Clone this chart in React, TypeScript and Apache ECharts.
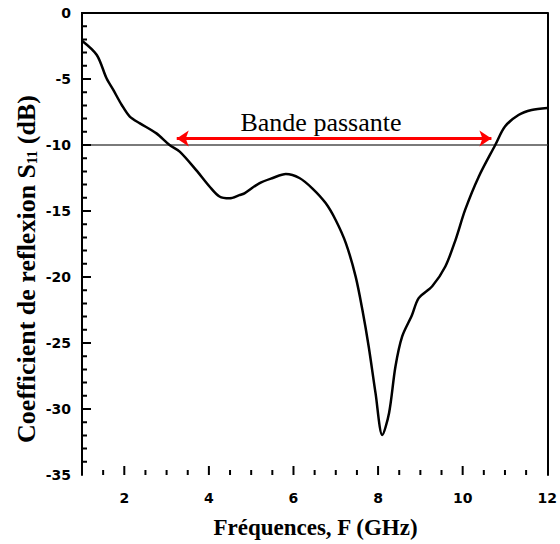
import React, { useEffect, useRef } from "react";
import * as echarts from "echarts";

const freq = [1.0, 1.35, 1.58, 1.74, 1.94, 2.13, 2.37, 2.76, 3.07, 3.31, 3.7, 4.02, 4.25, 4.49, 4.72, 4.84, 5.19, 5.51, 5.82, 6.14, 6.45, 6.76, 7.0, 7.24, 7.47, 7.63, 7.78, 7.94, 8.1, 8.26, 8.41, 8.57, 8.8, 8.96, 9.28, 9.59, 9.83, 10.06, 10.38, 10.77, 11.0, 11.32, 11.63, 12.0];
const s11 = [-2.1, -3.18, -4.95, -5.83, -6.97, -7.85, -8.36, -9.12, -10.0, -10.5, -11.9, -13.16, -13.9, -14.04, -13.8, -13.66, -12.9, -12.5, -12.2, -12.5, -13.3, -14.4, -15.7, -17.45, -19.97, -22.5, -25.3, -28.8, -31.97, -30.3, -26.8, -24.5, -22.9, -21.6, -20.7, -19.2, -17.2, -14.9, -12.4, -10.0, -8.6, -7.73, -7.35, -7.2];
const thresholdX = [1, 12];
const thresholdY = [-10, -10];
const bandStart = [3.24, -9.5];
const bandEnd = [10.68, -9.5];
const bandLabel = "Bande passante";
const bandLabelPos = [6.65, -8.3];
const xMajorTicks = [2, 4, 6, 8, 10];
const xMinorTicks = [1.5, 2.5, 3, 3.5, 4.5, 5, 5.5, 6.5, 7, 7.5, 8.5, 9, 9.5, 10.5, 11, 11.5];
const yMajorTicks = [-30, -25, -20, -15, -10, -5];
const yMinorTicks = [-34, -33, -32, -31, -29, -28, -27, -26, -24, -23, -22, -21, -19, -18, -17, -16, -14, -13, -12, -11, -9, -8, -7, -6, -4, -3, -2, -1];
const xTitle = "Fréquences, F (GHz)";

const X_MIN = 1;
const Y_MIN = -35;
const MAJOR_LEN = 9;
const MINOR_LEN = 5;

export default function App() {
  const ref = useRef<HTMLDivElement>(null);
  useEffect(() => {
    if (!ref.current) return;
    const chart = echarts.init(ref.current, null, { renderer: "svg" });
    const labelFont = { fontFamily: "DejaVu Sans", fontWeight: "bold" as const, fontSize: 14, color: "#000" };
    const xTickData = [
      ...xMajorTicks.map((v) => [v, Y_MIN, MAJOR_LEN]),
      ...xMinorTicks.map((v) => [v, Y_MIN, MINOR_LEN]),
    ];
    chart.setOption({
      animation: false,
      backgroundColor: "#fff",
      grid: { left: 82, right: 11, top: 13, bottom: 69, show: false },
      xAxis: [
        {
          type: "value", min: 1, max: 12, interval: 1, position: "bottom",
          axisLine: { show: true, lineStyle: { color: "#000", width: 2 } },
          axisTick: { show: false },
          axisLabel: { ...labelFont, margin: 16, formatter: (v: number) => (v % 2 === 0 ? String(v) : "") },
          splitLine: { show: false },
        },
        {
          type: "value", min: 1, max: 12, position: "top",
          axisLine: { show: true, lineStyle: { color: "#000", width: 2 } },
          axisTick: { show: false },
          axisLabel: { show: false },
          splitLine: { show: false },
        },
      ],
      yAxis: [
        {
          type: "value", min: -35, max: 0, interval: 5, position: "left",
          axisLine: { show: true, lineStyle: { color: "#000", width: 2 } },
          axisTick: { show: false },
          axisLabel: { ...labelFont, margin: 11 },
          splitLine: { show: false },
        },
        {
          type: "value", min: -35, max: 0, interval: 5, position: "right",
          axisLine: { show: true, lineStyle: { color: "#000", width: 2 } },
          axisTick: { show: false },
          axisLabel: { show: false },
          splitLine: { show: false },
        },
      ],
      graphic: [
        {
          type: "text", x: 315.5, y: 527,
          style: { text: xTitle, fontFamily: "Liberation Serif", fontWeight: "bold", fontSize: 23, fill: "#000", align: "center", verticalAlign: "middle" },
        },
        {
          type: "text", x: 25, y: 269, rotation: Math.PI / 2,
          style: {
            text: "{a|Coefficient de reflexion S}{b|11}{a| (dB)}",
            align: "center", verticalAlign: "middle",
            rich: {
              a: { fontFamily: "Liberation Serif", fontWeight: "bold", fontSize: 26, fill: "#000", lineHeight: 28, verticalAlign: "bottom" },
              b: { fontFamily: "Liberation Serif", fontWeight: "bold", fontSize: 14, fill: "#000", verticalAlign: "bottom", lineHeight: 18 },
            },
          },
        },
      ],
      series: [
        {
          type: "line", xAxisIndex: 0, yAxisIndex: 0, data: thresholdX.map((x, i) => [x, thresholdY[i]]),
          showSymbol: false, lineStyle: { color: "#7a7a7a", width: 2 }, silent: true, z: 1,
        },
        {
          type: "custom", xAxisIndex: 0, yAxisIndex: 0, data: xTickData, silent: true, z: 4, clip: false,
          encode: { x: 0, y: 1 },
          renderItem: (_p: any, api: any) => {
            const pt = api.coord([api.value(0), api.value(1)]);
            const len = api.value(2);
            return { type: "rect", shape: { x: pt[0] - 1, y: pt[1] - len, width: 2, height: len }, style: { fill: "#000" } };
          },
        },
        {
          type: "line", xAxisIndex: 0, yAxisIndex: 0, data: freq.map((f, i) => [f, s11[i]]),
          showSymbol: false, smooth: 0.3, lineStyle: { color: "#000", width: 2.5 }, z: 3,
          markLine: {
            silent: true, symbol: ["arrow", "arrow"], symbolSize: 12,
            lineStyle: { color: "#ff0000", width: 3, type: "solid" },
            label: { show: false },
            data: [[{ coord: bandStart }, { coord: bandEnd }]],
          },
          markPoint: {
            silent: true, symbol: "circle", symbolSize: 0,
            label: { show: true, position: "inside", formatter: bandLabel, fontFamily: "Liberation Serif", fontSize: 26, color: "#000" },
            data: [{ coord: bandLabelPos }],
          },
        },
      ],
    });
    // y-axis ticks as a comb polyline, tick length converted to data units through the axis scale
    const origin = chart.convertToPixel({ xAxisIndex: 0, yAxisIndex: 0 }, [X_MIN, Y_MIN]) as number[];
    const toDataX = (px: number) => (chart.convertFromPixel({ xAxisIndex: 0, yAxisIndex: 0 }, [px, origin[1]]) as number[])[0];
    const majorX = toDataX(origin[0] + MAJOR_LEN);
    const minorX = toDataX(origin[0] + MINOR_LEN);
    const ticks = [
      ...yMajorTicks.map((v) => ({ v, end: majorX })),
      ...yMinorTicks.map((v) => ({ v, end: minorX })),
    ].sort((a, b) => a.v - b.v);
    const comb: any[] = [];
    ticks.forEach(({ v, end }) => {
      comb.push([X_MIN, v], [end, v], [X_MIN, v]);
    });
    chart.setOption({
      series: [
        {}, {}, {},
        {
          type: "line", xAxisIndex: 0, yAxisIndex: 0, data: comb, showSymbol: false, silent: true, z: 6,
          lineStyle: { color: "#000", width: 2 },
        },
      ],
    });
    return () => chart.dispose();
  }, []);
  return <div ref={ref} style={{ width: 560, height: 544, position: "absolute", left: 0, top: 0 }} />;
}
